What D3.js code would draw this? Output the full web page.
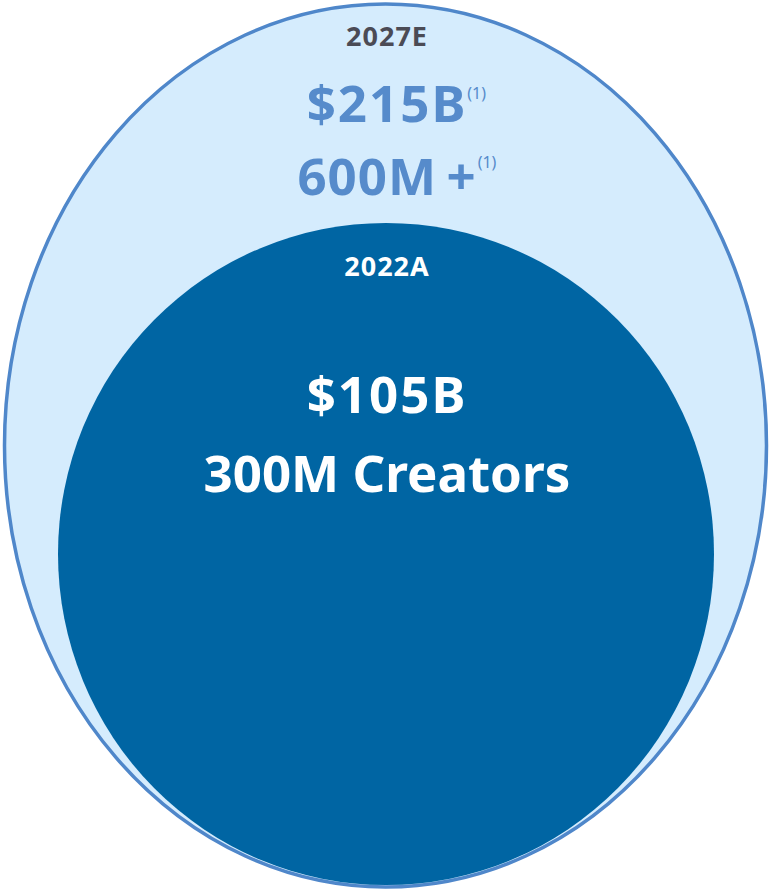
<!DOCTYPE html>
<html>
<head>
<meta charset="utf-8">
<script src="https://cdn.jsdelivr.net/npm/d3@7"></script>
<style>
  body { margin: 0; background: #fff; }
  svg { display: block; font-family: "Noto Sans", "Open Sans", sans-serif; }
</style>
</head>
<body>
<svg id="chart"></svg>
<script>
// data
var years = ["2027E", "2022A"];
var marketSize = ["$215B", "$105B"];
var creators = ["600M+", "300M Creators"];
var footnotes = ["(1)", ""];

var width = 769,
   height = 891;

var svg = d3.select("svg#chart").attr("width", width).attr("height", height);

// layout of the two bubbles (outer = 2027E, inner = 2022A)
var shapes = [
   { cx: 385.5, cy: 445.5, rx: 381, ry: 441.5, fill: "#d5ecfd", stroke: "#4f87ca" },
   { cx: 386, cy: 554, rx: 328, ry: 331, fill: "#0065a3", stroke: "none" },
];

svg
   .selectAll("ellipse")
   .data(shapes)
   .join("ellipse")
   .attr("cx", function (d) { return d.cx; })
   .attr("cy", function (d) { return d.cy; })
   .attr("rx", function (d) { return d.rx; })
   .attr("ry", function (d) { return d.ry; })
   .attr("fill", function (d) { return d.fill; })
   .attr("stroke", function (d) { return d.stroke; })
   .attr("stroke-width", 3.5);

var cx = 387;

// outer labels
svg.append("text")
   .attr("x", cx).attr("y", 46)
   .attr("text-anchor", "middle")
   .attr("font-size", 27).attr("font-weight", "bold")
   .attr("letter-spacing", 1)
   .attr("fill", "#4b4b55")
   .text(years[0]);

var big1 = svg.append("text")
   .attr("x", cx).attr("y", 122)
   .attr("text-anchor", "middle")
   .attr("font-size", 51).attr("font-weight", "bold")
   .attr("letter-spacing", 2)
   .attr("fill", "#568bcb")
   .text(marketSize[0]);

var big2 = svg.append("text")
   .attr("x", cx).attr("y", 195)
   .attr("text-anchor", "middle")
   .attr("font-size", 51).attr("font-weight", "bold")
   .attr("letter-spacing", 1)
   .attr("fill", "#568bcb")
   .text(creators[0].replace("+", "\u2009+"));

// footnote markers
var b1 = big1.node().getBBox();
svg.append("text")
   .attr("x", b1.x + b1.width).attr("y", 99)
   .attr("font-size", 16)
   .attr("fill", "#568bcb")
   .text(footnotes[0]);
var b2 = big2.node().getBBox();
svg.append("text")
   .attr("x", b2.x + b2.width + 1).attr("y", 168)
   .attr("font-size", 16)
   .attr("fill", "#568bcb")
   .text(footnotes[0]);

// inner labels
svg.append("text")
   .attr("x", cx).attr("y", 276)
   .attr("text-anchor", "middle")
   .attr("font-size", 27).attr("font-weight", "bold")
   .attr("letter-spacing", 1)
   .attr("fill", "#ffffff")
   .text(years[1]);

svg.append("text")
   .attr("x", cx).attr("y", 413)
   .attr("text-anchor", "middle")
   .attr("font-size", 51).attr("font-weight", "bold")
   .attr("letter-spacing", 2)
   .attr("fill", "#ffffff")
   .text(marketSize[1]);

svg.append("text")
   .attr("x", cx).attr("y", 492)
   .attr("text-anchor", "middle")
   .attr("font-size", 51).attr("font-weight", "bold")
   .attr("fill", "#ffffff")
   .text(creators[1]);
</script>
</body>
</html>
